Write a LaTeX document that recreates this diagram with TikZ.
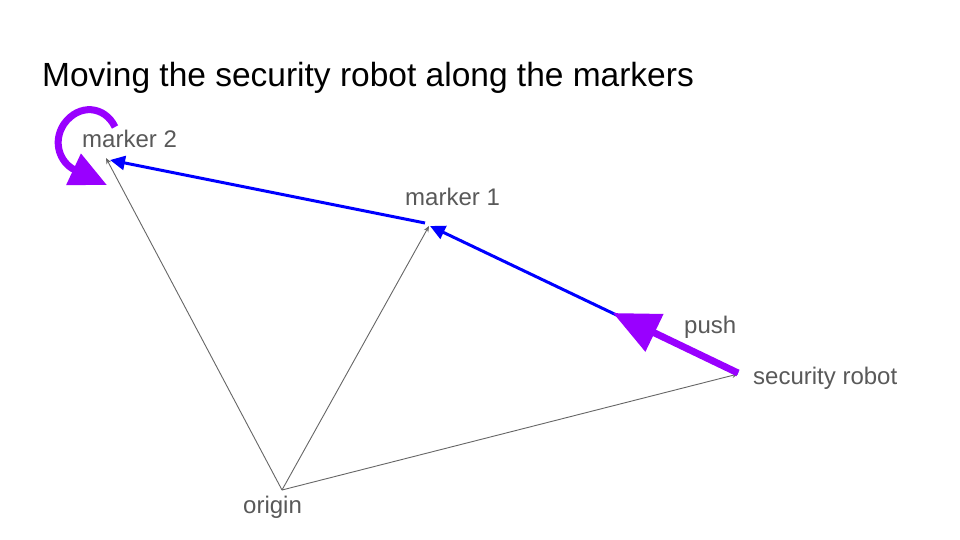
\documentclass[tikz,border=0pt]{standalone}
\usepackage{fontspec}
\setmainfont{Liberation Sans}
\usetikzlibrary{arrows.meta}
\definecolor{labelgray}{HTML}{595959}
\definecolor{vecgray}{HTML}{666666}
\definecolor{moveblue}{HTML}{0000FF}
\definecolor{pushpurple}{HTML}{9900FF}
\begin{document}
\begin{tikzpicture}[x=1pt,y=-1pt,
  lbl/.style={anchor=base west,inner sep=0pt,text=labelgray,font=\fontsize{24}{28}\selectfont},
  vecline/.style={draw=vecgray,line width=0.9pt,-{Stealth[length=6pt,width=5pt]}},
  moveline/.style={draw=moveblue,line width=3pt,-{Triangle[length=15pt,width=14pt]}},
  pushline/.style={draw=pushpurple,line width=7pt,-{Triangle[length=46pt,width=40pt]}},
  turnline/.style={draw=pushpurple,line width=7pt,-{Triangle[length=37pt,width=33pt]}}]
\fill[white] (0,0) rectangle (960,540);
\useasboundingbox (0,0) rectangle (960,540);

\node[anchor=base west,inner sep=0pt,font=\fontsize{33.5}{40}\selectfont] (title) at (42,87) {Moving the security robot along the markers};

\coordinate (o) at (282,490);
\coordinate (m2) at (106,158);
\coordinate (m1) at (429,226);
\coordinate (r) at (738,374);
\coordinate (m2b) at (110,160);
\coordinate (m1b) at (430,226);
\coordinate (m1s) at (425,223);
\coordinate (rs) at (738,373);
\coordinate (ptip) at (613,313);

\node[lbl] (lm2) at (82,148) {marker 2};
\node[lbl] (lm1) at (405,205) {marker 1};
\node[lbl] (lpush) at (684,333) {push};
\node[lbl] (lrobot) at (753,384) {security robot};
\node[lbl] (lorigin) at (243,513) {origin};

\draw[vecline] (o) -- (m2);
\draw[vecline] (o) -- (m1);
\draw[vecline] (o) -- (r);

\draw[moveline] (rs) -- (m1b);
\draw[moveline] (m1s) -- (m2b);

\draw[pushline] (rs) -- (ptip);

\draw[turnline] (115,127) .. controls (105,106) and (79,103) .. (64,124)
  .. controls (52,142) and (60,163) .. (107,185);
\end{tikzpicture}
\end{document}
